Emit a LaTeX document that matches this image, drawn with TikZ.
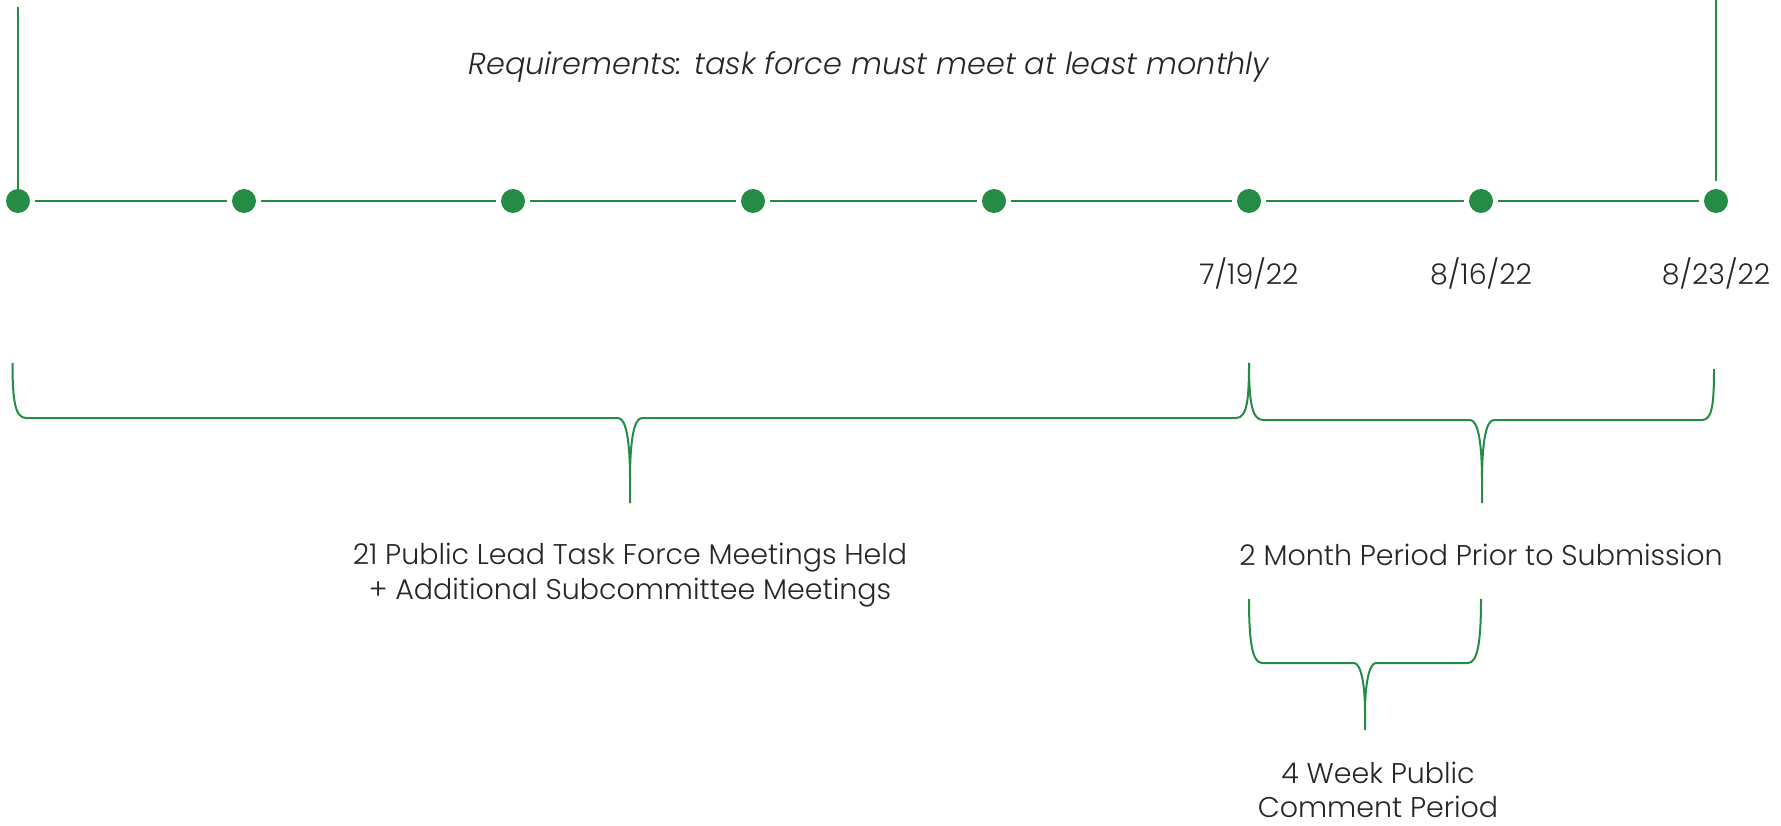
\documentclass[tikz,border=0pt]{standalone}
\usepackage{fontspec}
\setmainfont{Poppins}[UprightFont=* Light, ItalicFont=* Light Italic]
\definecolor{tlgreen}{RGB}{36,140,68}
\definecolor{txt}{RGB}{38,38,38}
\begin{document}
\begin{tikzpicture}[x=1pt,y=-1pt,
  dot/.style={circle,fill=tlgreen,minimum size=24pt,inner sep=0pt,outer sep=5pt},
  seg/.style={draw=tlgreen,line width=2pt},
  brc/.style={draw=tlgreen,line width=2pt},
  lbl/.style={text=txt,font=\fontsize{28.5}{35}\selectfont,align=center,inner sep=0pt},
  ttl/.style={text=txt,font=\fontsize{30.3}{36}\selectfont\itshape,inner sep=0pt}]
\useasboundingbox (0,0) rectangle (1781,826);
% vertical markers
\coordinate (c1) at (18,201);
\coordinate (t1) at (18,7);
\coordinate (t8) at (1716,0);
\draw[seg] (t1) -- (c1);
% dots
\node[dot] (d1) at (c1) {};
\node[dot] (d2) at (244,201) {};
\node[dot] (d3) at (513,201) {};
\node[dot] (d4) at (753,201) {};
\node[dot] (d5) at (994,201) {};
\node[dot] (d6) at (1249,201) {};
\node[dot] (d7) at (1481,201) {};
\node[dot] (d8) at (1716,201) {};
\draw[seg] (d1) -- (d2);
\draw[seg] (d2) -- (d3);
\draw[seg] (d3) -- (d4);
\draw[seg] (d4) -- (d5);
\draw[seg] (d5) -- (d6);
\draw[seg] (d6) -- (d7);
\draw[seg] (d7) -- (d8);
\draw[seg] (t8) -- ([yshift=3pt]d8.north);
% title and dates
\node[ttl] (title) at (869,67) {Requirements: task force must meet at least monthly};
\node[lbl] (date6) at (1249,273) {7/19/22};
\node[lbl] (date7) at (1481,273) {8/16/22};
\node[lbl] (date8) at (1716,273) {8/23/22};
% brace 1
\draw[brc] (12.5,363) .. controls (12.5,400) and (15,418) .. (26,418) -- (618,418)
  .. controls (626,418) and (630,440) .. (630,480) -- (630,503);
\draw[brc] (630,480) .. controls (630,440) and (634,418) .. (642,418) -- (1236,418)
  .. controls (1247,418) and (1249,400) .. (1249,363);
% brace 2
\draw[brc] (1249,363) .. controls (1249,402) and (1252,420) .. (1263,420) -- (1470,420)
  .. controls (1478,420) and (1482,442) .. (1482,482) -- (1482,503);
\draw[brc] (1482,482) .. controls (1482,442) and (1486,420) .. (1494,420) -- (1702,420)
  .. controls (1712,420) and (1714,405) .. (1714,369);
% brace 3
\draw[brc] (1249,599) .. controls (1249,640) and (1252,663) .. (1262,663) -- (1354,663)
  .. controls (1361,663) and (1365,685) .. (1365,712) -- (1365,730);
\draw[brc] (1365,712) .. controls (1365,685) and (1369,663) .. (1376,663) -- (1468,663)
  .. controls (1478,663) and (1481,640) .. (1481,599);
% labels
\node[lbl] (l1) at (630,575) {21 Public Lead Task Force Meetings Held\\+ Additional Subcommittee Meetings};
\node[lbl,font=\fontsize{28.5}{34}\selectfont] (l3) at (1378,790) {4 Week Public\\Comment Period};
\node[lbl] (l2) at (1481,555) {2 Month Period Prior to Submission};
\end{tikzpicture}
\end{document}
